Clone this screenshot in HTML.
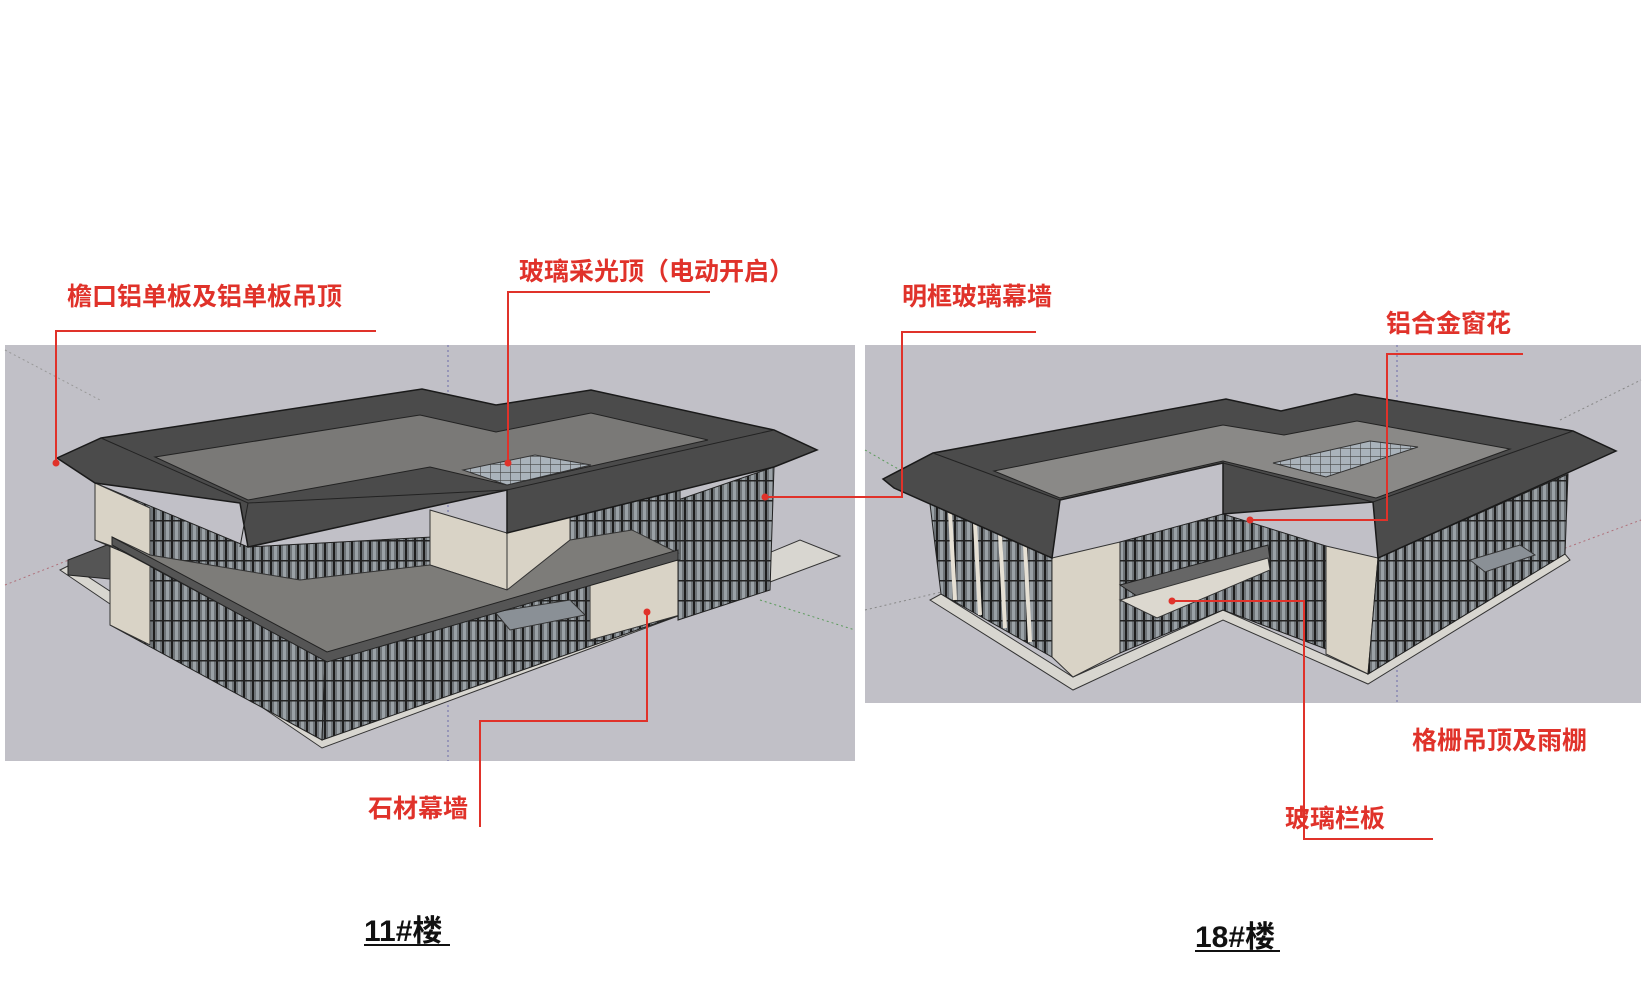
<!DOCTYPE html>
<html><head><meta charset="utf-8"><style>
html,body{margin:0;padding:0;background:#fff;}
svg{display:block}
.lb{font-family:"Liberation Sans","Noto Sans CJK SC",sans-serif;font-weight:bold;fill:#e0322a;font-size:25px}
.ttl{font-family:"Liberation Sans","Noto Sans CJK SC",sans-serif;fill:#111;font-size:30px;font-weight:bold}
</style></head><body>
<svg width="1642" height="990" viewBox="0 0 1642 990" xmlns="http://www.w3.org/2000/svg">
<defs>
<pattern id="gl" width="9" height="20" patternUnits="userSpaceOnUse">
<rect width="9" height="20" fill="#6f7478"/><rect x="0" width="2" height="20" fill="#1e1e1e"/><rect x="4" width="3" height="20" fill="#9aa1a6"/><rect y="0" width="9" height="1.5" fill="#222"/>
</pattern>
<pattern id="sk" width="10" height="8" patternUnits="userSpaceOnUse">
<rect width="10" height="8" fill="#aab3bb"/><path d="M0 0H10M0 0V8" stroke="#444" stroke-width="1.2"/>
</pattern>
</defs>
<rect x="5" y="345" width="850" height="416" fill="#c1c0c7"/>
<rect x="865" y="345" width="776" height="358" fill="#c1c0c7"/>
<g stroke-width="1" stroke-dasharray="2 3" fill="none">
<line x1="448" y1="345" x2="448" y2="761" stroke="#6a6aa8"/>
<line x1="5" y1="585" x2="120" y2="540" stroke="#b0707a"/>
<line x1="760" y1="600" x2="855" y2="630" stroke="#5a9a5a"/>
<line x1="5" y1="350" x2="100" y2="400" stroke="#999"/>
<line x1="1397" y1="345" x2="1397" y2="703" stroke="#6a6aa8"/>
<line x1="865" y1="450" x2="900" y2="470" stroke="#5a9a5a"/>
<line x1="1560" y1="550" x2="1641" y2="520" stroke="#b0707a"/>
<line x1="1560" y1="420" x2="1641" y2="380" stroke="#888"/>
<line x1="865" y1="610" x2="950" y2="590" stroke="#888"/>
</g>

<!-- Building 11 -->
<polygon points="60,570 322,748 840,556 800,540 330,735 70,565" fill="#d8d6d0" stroke="#333"/>
<polygon points="68,560 120,540 120,580 68,575" fill="#555" stroke="#222"/>
<polygon points="110,545 325,660 322,740 110,625" fill="url(#gl)" stroke="#222"/>
<polygon points="110,545 150,566 150,645 110,625" fill="#d9d3c6" stroke="#333"/>
<polygon points="325,660 680,555 680,615 322,740" fill="url(#gl)" stroke="#222"/>
<polygon points="590,585 680,558 680,615 590,640" fill="#d9d3c6" stroke="#333"/>
<polygon points="495,612 570,600 585,615 510,630" fill="#8a9096" stroke="#333"/>
<polygon points="678,500 774,467 770,590 678,620" fill="url(#gl)" stroke="#222"/>
<polygon points="95,483 248,547 507,533 680,480 680,560 248,605 95,540" fill="url(#gl)" stroke="#222"/>
<polygon points="95,483 150,508 150,560 95,540" fill="#d9d3c6" stroke="#333"/>
<polygon points="430,510 507,533 507,590 430,565" fill="#d9d3c6" stroke="#333"/>
<polygon points="507,533 570,515 570,575 507,590" fill="#d9d3c6" stroke="#333"/>
<polygon points="112,537 327,657 678,553 632,530 570,540 507,590 430,565 300,580 150,555" fill="#7d7c79" stroke="#333"/>
<polygon points="112,537 327,652 678,550 678,560 327,662 112,545" fill="#555" stroke="#222"/>
<polygon points="57,458 101,438 422,389 496,405 591,390 774,430 817,450 774,467 507,533 507,490 248,547 240,503 95,483" fill="#4b4b4b" stroke="#1a1a1a" stroke-width="1.5"/>
<polygon points="155,457 420,415 496,432 591,413 708,440 507,485 430,467 248,500" fill="#7a7977" stroke="#222"/>
<polygon points="463,470 535,455 591,465 507,485" fill="url(#sk)" stroke="#333"/>
<polyline points="101,438 248,503 507,490 774,430" fill="none" stroke="#222"/>
<polyline points="248,503 240,547" fill="none" stroke="#222"/>

<!-- Building 18 -->
<polygon points="930,600 1073,690 1223,620 1368,684 1570,560 1565,554 1368,674 1223,610 1073,677 941,594" fill="#d8d6d0" stroke="#333"/>
<polygon points="930,504 1052,558 1052,657 941,594" fill="url(#gl)" stroke="#222"/>
<g stroke="#e6e0d4" stroke-width="4"><line x1="950" y1="512" x2="955" y2="600"/><line x1="975" y1="523" x2="980" y2="615"/><line x1="1000" y1="534" x2="1005" y2="628"/><line x1="1025" y1="545" x2="1030" y2="642"/></g>
<polygon points="1052,558 1120,542 1120,653 1073,677 1052,657" fill="#d9d3c6" stroke="#333"/>
<polygon points="1120,542 1223,514 1326,546 1326,649 1223,610 1120,653" fill="url(#gl)" stroke="#222"/>
<polygon points="1326,546 1378,558 1368,674 1326,654" fill="#d9d3c6" stroke="#333"/>
<polygon points="1378,558 1568,474 1565,554 1368,674" fill="url(#gl)" stroke="#222"/>
<polygon points="1470,560 1520,545 1535,555 1485,572" fill="#8a9096" stroke="#333"/>
<polygon points="1120,585 1268,545 1270,560 1140,598" fill="#666" stroke="#222"/>
<polygon points="1120,600 1268,558 1270,570 1157,618" fill="#dcd8cf" stroke="#333"/>
<polygon points="883,479 933,453 1226,399 1281,411 1355,394 1573,431 1616,451 1565,474 1378,558 1373,502 1223,514 1223,463 1060,500 1052,558 894,488" fill="#4b4b4b" stroke="#1a1a1a" stroke-width="1.5"/>
<polygon points="994,471 1223,425 1284,435 1357,421 1510,449 1376,498 1223,461 1060,498" fill="#8a8987" stroke="#222"/>
<polygon points="1273,463 1370,441 1418,447 1326,477" fill="url(#sk)" stroke="#333"/>
<polyline points="933,453 1060,500 1223,463 1373,502 1573,431" fill="none" stroke="#222"/>

<g stroke="#e0322a" stroke-width="2" fill="none">
<polyline points="376,331 56,331 56,463"/>
<polyline points="710,292 508,292 508,463"/>
<polyline points="1036,332 902,332 902,497 765,497"/>
<polyline points="1523,354 1387,354 1387,520 1250,520"/>
<polyline points="1433,839 1304,839 1304,601 1172,601"/>
<polyline points="480,827 480,721 647,721 647,612"/>
</g>
<g fill="#e0322a">
<circle cx="56" cy="463" r="3.5"/><circle cx="508" cy="463" r="3.5"/><circle cx="765" cy="497" r="3.5"/>
<circle cx="1250" cy="520" r="3.5"/><circle cx="1172" cy="601" r="3.5"/><circle cx="647" cy="612" r="3.5"/>
</g>
<text class="lb" x="67" y="305">檐口铝单板及铝单板吊顶</text>
<text class="lb" x="519" y="280">玻璃采光顶（电动开启）</text>
<text class="lb" x="902" y="305">明框玻璃幕墙</text>
<text class="lb" x="1386" y="332">铝合金窗花</text>
<text class="lb" x="1412" y="749">格栅吊顶及雨棚</text>
<text class="lb" x="1285" y="827">玻璃栏板</text>
<text class="lb" x="368" y="817">石材幕墙</text>
<text class="ttl" x="364" y="941">11#楼</text>
<line x1="364" y1="945" x2="450" y2="945" stroke="#111" stroke-width="2"/>
<text class="ttl" x="1195" y="947">18#楼</text>
<line x1="1195" y1="951" x2="1280" y2="951" stroke="#111" stroke-width="2"/>
</svg>
</body></html>
